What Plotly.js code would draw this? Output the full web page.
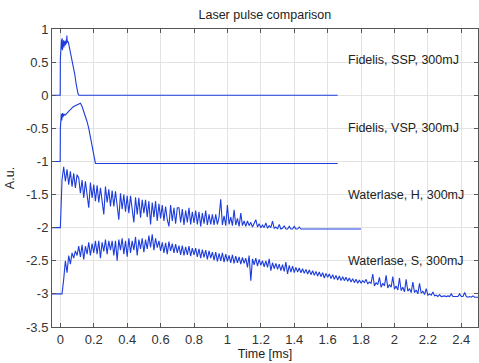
<!DOCTYPE html>
<html>
<head>
<meta charset="utf-8">
<script src="https://cdn.plot.ly/plotly-3.0.1.min.js"></script>
<style>html,body{margin:0;padding:0;background:#fff;}#chart{width:479px;height:363px;}</style>
</head>
<body>
<div id="chart"></div>
<script>
// ---- data ----
const sspTime = [-0.05, -0.001, 0.0, 0.003, 0.005, 0.007, 0.009, 0.011, 0.013, 0.015, 0.017, 0.019, 0.021, 0.023, 0.025, 0.027, 0.029, 0.031, 0.033, 0.035, 0.037, 0.039, 0.041, 0.043, 0.045, 0.048, 0.055, 0.062, 0.07, 0.078, 0.086, 0.094, 0.1, 0.106, 0.111, 0.115, 1.66];
const sspVal  = [0.0, 0.0, 0.55, 0.78, 0.62, 0.84, 0.7, 0.86, 0.68, 0.8, 0.74, 0.83, 0.72, 0.79, 0.76, 0.82, 0.75, 0.8, 0.77, 0.84, 0.78, 0.9, 0.8, 0.85, 0.81, 0.8, 0.72, 0.63, 0.54, 0.44, 0.32, 0.18, 0.08, 0.02, 0.0, 0.0, 0.0];

const vspTime = [-0.05, -0.001, 0.0, 0.002, 0.004, 0.006, 0.008, 0.01, 0.012, 0.014, 0.016, 0.018, 0.02, 0.025, 0.03, 0.04, 0.05, 0.06, 0.07, 0.08, 0.09, 0.1, 0.11, 0.12, 0.13, 0.14, 0.15, 0.16, 0.17, 0.18, 0.19, 0.2, 0.21, 1.66];
const vspVal  = [-1.0, -1.0, -0.5, -0.3, -0.42, -0.28, -0.38, -0.3, -0.36, -0.27, -0.33, -0.28, -0.31, -0.29, -0.3, -0.27, -0.24, -0.21, -0.19, -0.17, -0.155, -0.14, -0.13, -0.12, -0.17, -0.24, -0.31, -0.4, -0.5, -0.62, -0.75, -0.9, -1.03, -1.03];

// Waterlase H: samples every 0.01 ms from 0.01 to 1.45 ms
const hStart = 0.01, hStep = 0.01;
const hVal = [
 -1.28, -1.08, -1.3, -1.12, -1.35, -1.15, -1.38, -1.18, -1.4, -1.2,
 -1.25, -1.48, -1.28, -1.55, -1.3, -1.5, -1.7, -1.32, -1.55, -1.35,
 -1.6, -1.36, -1.62, -1.4, -1.58, -1.8, -1.38, -1.62, -1.42, -1.68,
 -1.44, -1.68, -1.45, -1.7, -1.88, -1.48, -1.72, -1.5, -1.76, -1.52,
 -1.78, -1.52, -1.75, -1.92, -1.54, -1.8, -1.55, -1.85, -1.58, -1.78,
 -1.58, -1.84, -1.6, -1.95, -1.62, -1.84, -1.6, -1.9, -1.64, -1.86,
 -1.66, -1.9, -1.68, -1.88, -1.98, -1.66, -1.9, -1.7, -1.94, -1.7,
 -1.7, -1.92, -1.72, -1.96, -1.74, -1.92, -1.7, -1.95, -1.76, -1.93,
 -1.74, -1.95, -1.76, -1.98, -1.78, -1.94, -1.74, -1.96, -1.8, -1.95,
 -1.8, -1.96, -1.8, -1.95, -1.84, -1.57, -1.96, -1.82, -1.97, -1.66,
 -1.95, -1.84, -1.97, -1.73, -1.96, -1.86, -1.98, -1.78, -1.97, -1.9,
 -1.98, -1.9, -1.97, -1.92, -1.99, -1.93, -1.88, -1.99, -1.94, -2.0,
 -1.96, -2.0, -1.93, -2.01, -1.97, -2.0, -1.9, -2.01, -1.99, -2.02,
 -1.95, -2.02, -2.01, -1.97, -2.02, -2.02, -1.98, -2.02, -2.02, -1.98,
 -2.02, -2.02, -1.99, -2.02, -2.02
];
const hPreTime = [-0.05, 0.0], hPreVal = [-2.0, -2.0];
const hPostTime = [1.8], hPostVal = [-2.02];

// Waterlase S: samples every 0.01 ms from 0.01 to 2.50 ms
const sStart = 0.01, sStep = 0.01;
const sVal = [
 -3.0, -2.78, -2.5, -2.68, -2.42, -2.55, -2.38, -2.46, -2.35, -2.42,
 -2.28, -2.44, -2.26, -2.48, -2.28, -2.4, -2.22, -2.42, -2.24, -2.38,
 -2.2, -2.4, -2.2, -2.46, -2.22, -2.36, -2.18, -2.4, -2.2, -2.34,
 -2.2, -2.42, -2.2, -2.5, -2.18, -2.34, -2.16, -2.4, -2.2, -2.44,
 -2.16, -2.38, -2.2, -2.34, -2.14, -2.42, -2.18, -2.32, -2.16, -2.37,
 -2.18, -2.32, -2.12, -2.3, -2.1, -2.34, -2.16, -2.3, -2.2, -2.35,
 -2.22, -2.38, -2.23, -2.4, -2.21, -2.35, -2.24, -2.38, -2.25, -2.38,
 -2.27, -2.41, -2.27, -2.42, -2.29, -2.41, -2.28, -2.43, -2.31, -2.41,
 -2.31, -2.44, -2.32, -2.46, -2.33, -2.45, -2.34, -2.48, -2.35, -2.46,
 -2.37, -2.49, -2.37, -2.51, -2.39, -2.5, -2.38, -2.52, -2.4, -2.51,
 -2.42, -2.53, -2.41, -2.54, -2.43, -2.53, -2.44, -2.55, -2.45, -2.54,
 -2.46, -2.6, -2.42, -2.8, -2.47, -2.56, -2.46, -2.58, -2.48, -2.57,
 -2.5, -2.59, -2.5, -2.6, -2.47, -2.65, -2.53, -2.62, -2.54, -2.63,
 -2.55, -2.65, -2.56, -2.66, -2.52, -2.7, -2.57, -2.67, -2.58, -2.68,
 -2.6, -2.67, -2.61, -2.68, -2.62, -2.69, -2.63, -2.7, -2.64, -2.71,
 -2.65, -2.72, -2.66, -2.73, -2.67, -2.74, -2.68, -2.76, -2.69, -2.75,
 -2.7, -2.77, -2.71, -2.78, -2.72, -2.79, -2.73, -2.8, -2.74, -2.8,
 -2.75, -2.81, -2.76, -2.82, -2.77, -2.83, -2.78, -2.84, -2.79, -2.84,
 -2.8, -2.83, -2.78, -2.85, -2.82, -2.84, -2.7, -2.88, -2.83, -2.86,
 -2.75, -2.9, -2.84, -2.88, -2.72, -2.91, -2.86, -2.9, -2.74, -2.93,
 -2.88, -2.94, -2.76, -2.95, -2.9, -2.97, -2.78, -2.96, -2.92, -2.98,
 -2.82, -2.98, -2.94, -3.0, -2.84, -2.99, -2.96, -3.01, -2.92, -3.02,
 -3.0, -3.02, -2.97, -3.03, -3.02, -3.04, -3.01, -3.04, -3.03, -3.03,
 -3.04, -3.03, -3.04, -3.0, -3.04, -3.04, -3.03, -3.04, -3.0, -3.04,
 -3.04, -2.98, -3.04, -3.05, -3.04, -3.05, -3.03, -3.05, -3.05, -3.05
];
const sPreTime = [-0.05], sPreVal = [-3.0];

const labels = ["Fidelis, SSP, 300mJ", "Fidelis, VSP, 300mJ", "Waterlase, H, 300mJ", "Waterlase, S, 300mJ"];
const labelY = [0.53, -0.5, -1.51, -2.5];
const labelX = 1.71;

const xTickVals = [0, 0.2, 0.4, 0.6, 0.8, 1, 1.2, 1.4, 1.6, 1.8, 2, 2.2, 2.4];
const xTickText = ["0", "0.2", "0.4", "0.6", "0.8", "1", "1.2", "1.4", "1.6", "1.8", "2", "2.2", "2.4"];
const yTickVals = [-3.5, -3, -2.5, -2, -1.5, -1, -0.5, 0, 0.5, 1];
const yTickText = ["-3.5", "-3", "-2.5", "-2", "-1.5", "-1", "-0.5", "0", "0.5", "1"];

// ---- build traces ----
function sampleTimes(n, t0, dt) {
  const out = [];
  for (let i = 0; i < n; i++) out.push(+(t0 + i * dt).toFixed(4));
  return out;
}
const hTime = hPreTime.concat(sampleTimes(hVal.length, hStart, hStep), hPostTime);
const hAll = hPreVal.concat(hVal, hPostVal);
const sTime = sPreTime.concat(sampleTimes(sVal.length, sStart, sStep));
const sAll = sPreVal.concat(sVal);

const lineStyle = {color: '#1c3cdc', width: 1.1};
const traces = [
  {x: sspTime, y: sspVal},
  {x: vspTime, y: vspVal},
  {x: hTime, y: hAll},
  {x: sTime, y: sAll}
].map(t => Object.assign(t, {type: 'scatter', mode: 'lines', line: lineStyle, hoverinfo: 'none', showlegend: false}));

const font = {family: 'Liberation Sans, Arial, sans-serif', color: '#222'};

const layout = {
  width: 479, height: 363,
  margin: {l: 52, r: 1, t: 29, b: 36},
  paper_bgcolor: '#fff', plot_bgcolor: '#fff',
  showlegend: false,
  title: {text: 'Laser pulse comparison', font: Object.assign({size: 12.5}, font), x: 0.553, xref: 'container', xanchor: 'center', y: 0.959, yref: 'container', yanchor: 'middle'},
  xaxis: {
    range: [-0.05, 2.5], tickmode: 'array', tickvals: xTickVals, ticktext: xTickText,
    ticks: 'inside', ticklen: 4, tickcolor: '#555', showline: true, linecolor: '#555', linewidth: 1, mirror: 'ticks',
    showgrid: true, gridcolor: '#e3e3e3', gridwidth: 1, zeroline: false,
    tickfont: Object.assign({size: 13}, font, {color: '#333'}),
    title: {text: 'Time [ms]', font: Object.assign({size: 12.5}, font), standoff: 2},
    automargin: false
  },
  yaxis: {
    range: [-3.5, 1], tickmode: 'array', tickvals: yTickVals, ticktext: yTickText,
    ticks: 'inside', ticklen: 4, tickcolor: '#555', showline: true, linecolor: '#555', linewidth: 1, mirror: 'ticks',
    showgrid: true, gridcolor: '#e3e3e3', gridwidth: 1, zeroline: false,
    tickfont: Object.assign({size: 13}, font, {color: '#333'}),
    title: {text: 'A.u.', font: Object.assign({size: 12.5}, font), standoff: 8},
    automargin: false
  },
  annotations: labels.map((txt, i) => ({
    x: labelX, y: labelY[i], xref: 'x', yref: 'y', text: txt, showarrow: false,
    xanchor: 'left', yanchor: 'middle', font: Object.assign({size: 12.5}, font)
  }))
};

Plotly.newPlot('chart', traces, layout, {staticPlot: true, displayModeBar: false});
</script>
</body>
</html>
